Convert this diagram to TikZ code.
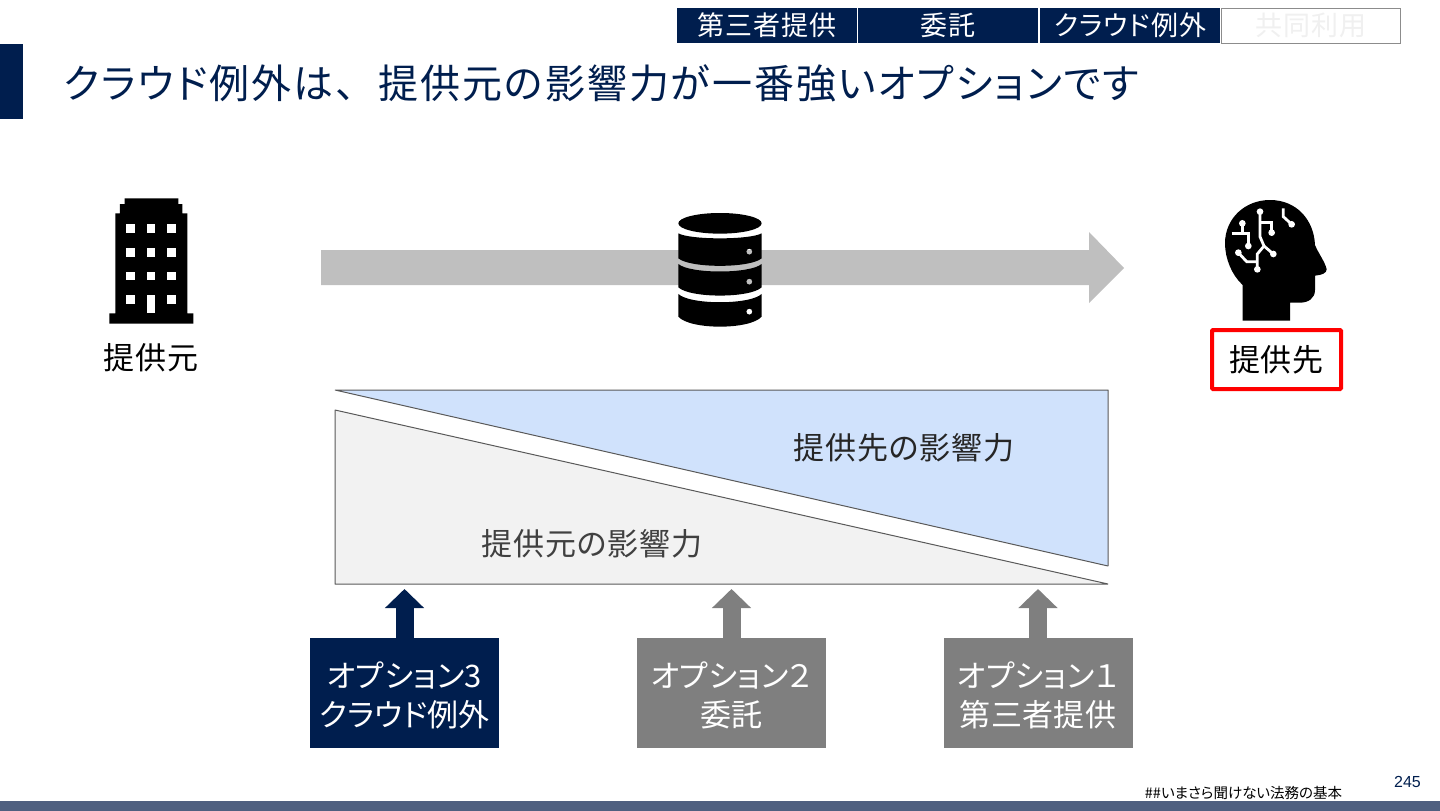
\documentclass[tikz,border=0pt]{standalone}
\usepackage{fontspec}
\setmainfont[RawFeature=+palt]{Noto Sans CJK JP}
\newfontfamily\numfont{Liberation Sans}
\usetikzlibrary{arrows.meta}
\definecolor{navy}{HTML}{001E4E}
\definecolor{optgray}{HTML}{7F7F7F}
\definecolor{bandgray}{HTML}{BFBFBF}
\definecolor{footblue}{HTML}{4F6080}
\definecolor{toblue}{HTML}{D0E2FC}
\definecolor{fromgray}{HTML}{F2F2F2}
\tikzset{
  tab/.style={minimum width=180pt,minimum height=35pt,inner sep=0pt,fill=navy,text=white,font=\fontsize{27}{30}\selectfont\addfontfeature{LetterSpace=3.5}},
  optbox/.style={minimum width=189pt,minimum height=110pt,inner sep=0pt},
  opttext/.style={inner sep=0pt,align=center,text=white,font=\fontsize{31}{39}\selectfont\addfontfeature{LetterSpace=1}},
  optarrow/.style={line width=18pt,-{Triangle[length=19pt,width=38pt]}},
  wedge/.style={draw=black!65,line width=1pt,line join=bevel},
  label/.style={inner sep=0pt,font=\fontsize{31}{36}\selectfont\addfontfeature{LetterSpace=3}}
}
\begin{document}
\begin{tikzpicture}[x=1pt,y=-1pt]
  \useasboundingbox (0,0) rectangle (1440,811);
  \fill[navy] (0,44) rectangle (23,119);
  \fill[footblue] (0,801) rectangle (1440,811);
  \node[anchor=west,inner sep=0pt,text=navy,font=\fontsize{40}{44}\selectfont\addfontfeature{LetterSpace=5}] (title) at (63,83) {クラウド例外は、\hspace{23pt}提供元の影響力が一番強いオプションです};
  \foreach \n/\x/\t in {a/767/第三者提供,b/948/委託,c/1130/クラウド例外}
  {
    \node[tab] (tab\n) at (\x,25.5) {\t};
  }
  \node[tab,fill=white,draw=black!45,text=black!6,minimum width=179pt] (tabd) at (1311,25.5) {共同利用};
  %flow
  \fill[bandgray] (321,250) -- (1089,250) -- (1089,232) -- (1124,268) -- (1089,303) -- (1089,285) -- (321,285) -- cycle;
  %building
  \begin{scope}[shift={(80,180)},x=0.3333pt,y=-0.3333pt]
    \fill (88,431) -- (88,400) -- (106,400) -- (106,100) -- (120,100) -- (120,72) -- (134,72) -- (134,55) -- (295,55) -- (295,72) -- (307,72) -- (307,100) -- (322,100) -- (322,400) -- (340,400) -- (340,431) -- cycle;
    \foreach \x in {138,200,262}
      \foreach \y in {132,204,275}
        \fill[white] (\x,\y) rectangle +(26,26);
    \foreach \x in {138,262}
      \fill[white] (\x,346) rectangle +(26,26);
    \fill[white] (200,346) rectangle (226,400);
  \end{scope}
  \node[label] (src) at (151,358) {提供元};
  %database
  \begin{scope}[shift={(660,200)},x=0.3333pt,y=-0.3333pt]
    \fill (180,70) ellipse [x radius=125,y radius=31];
    \fill[even odd rule] (55,100) .. controls (90,120) and (270,120) .. (305,100) -- (305,175) .. controls (270,205) and (90,205) .. (55,175) -- cycle (268,155) circle (9);
    \fill[even odd rule] (55,192) .. controls (90,222) and (270,222) .. (305,192) -- (305,262) .. controls (270,295) and (90,295) .. (55,262) -- cycle (268,245) circle (9);
    \fill[even odd rule] (55,282) .. controls (90,315) and (270,315) .. (305,282) -- (305,350) .. controls (270,390) and (90,390) .. (55,350) -- cycle (268,335) circle (9);
  \end{scope}
  %head
  \begin{scope}[shift={(1190,190)},x=0.3333pt,y=-0.3333pt]
    \fill (158,392) -- (158,285) .. controls (125,255) and (105,205) .. (105,160) .. controls (105,85) and (165,30) .. (240,30) .. controls (320,30) and (372,90) .. (375,165) .. controls (385,190) and (405,215) .. (410,238) .. controls (410,250) and (395,255) .. (375,257) -- (375,300) .. controls (375,325) and (355,338) .. (330,338) -- (300,338) -- (300,392) -- cycle;
    \begin{scope}[draw=white,fill=white,line width=2.8pt]
      \draw (210,65) -- (210,140) -- (222,168) -- (250,192);
      \draw (222,168) -- (202,192) -- (202,238);
      \draw (202,215) -- (170,215) -- (145,188);
      \draw (210,98) -- (245,98) -- (245,128);
      \draw (280,55) -- (280,80) -- (305,103);
      \draw (157,100) -- (157,130);
      \draw (125,130) -- (175,130) -- (175,168);
      \foreach \x/\y in {210/65,250/192,202/238,145/188,245/128,305/103,157/100,175/168}
        \fill (\x,\y) circle (10);
    \end{scope}
  \end{scope}
  \node[label,draw=red,line width=4pt,rounded corners=1pt,minimum width=129pt,minimum height=59pt] (dst) at (1276.5,359.5) {提供先};
  %influence
  \draw[wedge,fill=toblue] (335,390) -- (1108,390) -- (1108,566) -- cycle;
  \draw[wedge,fill=fromgray] (335,410) -- (335,584) -- (1108,584) -- cycle;
  \node[label,text=black!85] (tolabel) at (904,448) {提供先の影響力};
  \node[label,text=black!75] (fromlabel) at (592,544) {提供元の影響力};
  %options
  \foreach \n/\x/\c/\t in {three/404.5/navy/{オプション3\\クラウド例外},two/731.5/optgray/{オプション２\\委託},one/1038/optgray/{オプション１\\第三者提供}}
  {
    \node[optbox,fill=\c] (opt\n) at (\x,693) {};
    \node[opttext,yshift=-2.5pt] (txt\n) at (opt\n) {\t};
    \coordinate (tip\n) at (\x,589);
    \draw[optarrow,draw=\c] (opt\n.north) -- (tip\n);
  }
  \node[inner sep=0pt,font=\fontsize{14.5}{16}\selectfont] (foot) at (1243.5,793) {\#\#いまさら聞けない法務の基本};
  \node[inner sep=0pt,text=navy,font=\numfont\fontsize{16}{18}\selectfont] (page) at (1407.5,782) {245};
\end{tikzpicture}
\end{document}
